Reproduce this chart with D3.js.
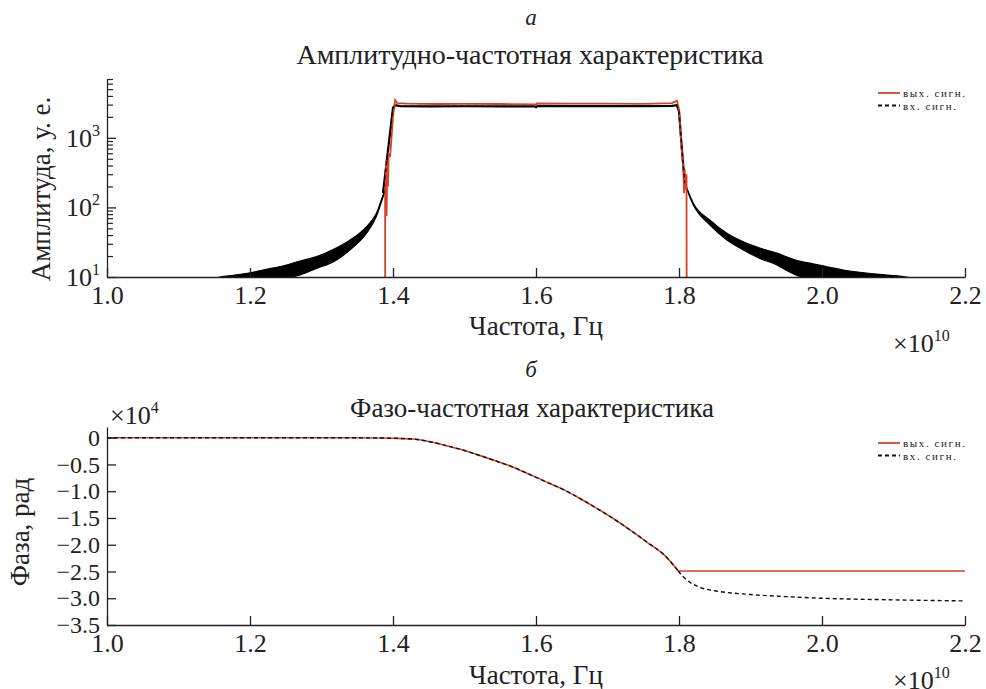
<!DOCTYPE html>
<html>
<head>
<meta charset="utf-8">
<title>АЧХ и ФЧХ</title>
<script src="https://d3js.org/d3.v7.min.js"></script>
<style>
  body { margin: 0; background: #fff; }
</style>
</head>
<body>
<div id="chart"></div>
<script>
// ---- данные (частота в единицах 1e10 Гц) ----
const freqTicks = [1.0, 1.2, 1.4, 1.6, 1.8, 2.0, 2.2];
const ampMajorTicks = [10, 100, 1000];
const ampMinorTicks = [20, 30, 40, 50, 60, 70, 80, 90, 200, 300, 400, 500, 600, 700, 800, 900,
                       2000, 3000, 4000, 5000, 6000, 7000];
const phaseTicks = [0, -0.5, -1.0, -1.5, -2.0, -2.5, -3.0, -3.5];

// АЧХ, вх. сигнал: шумовые «хвосты» (верхняя и нижняя огибающие)
const leftTailFreq  = [1.150, 1.158, 1.177, 1.200, 1.223, 1.247, 1.270, 1.293, 1.317, 1.340, 1.363, 1.377, 1.386, 1.391];
const leftTailHigh  = [9.5,   10,    10.6,  11.5,  12.9,  14.5,  17,    19.6,  25,    34,    53,    83,    150,   200];
const leftTailLow   = [9,     9,     9,     9,     9,     9.5,   10.7,  13.3,  16.6,  24.5,  42.5,  75,    140,   195];
const rightTailFreq = [1.808, 1.820, 1.843, 1.867, 1.890, 1.913, 1.937, 1.950, 1.965, 1.983, 2.007, 2.030, 2.053, 2.076, 2.100, 2.118, 2.130];
const rightTailHigh = [230,   115,   66,    42.5,  32,    26,    22,    19.5,  17.2,  15.8,  14,    12.6,  11.7,  11,    10.5,  10,    9.5];
const rightTailLow  = [220,   108,   56,    34,    24.5,  18.5,  14.9,  12.5,  10.5,  9.5,   9,     9,     9,     9,     9,     9,     9];

// АЧХ, вх. сигнал: полоса пропускания
const inAmpFreq = [1.386, 1.400, 1.403, 1.410, 1.450, 1.500, 1.550, 1.598, 1.600, 1.602, 1.650, 1.700, 1.750, 1.790, 1.797, 1.800, 1.804, 1.808];
const inAmp     = [160,   2700,  2950,  2850,  2830,  2840,  2830,  2830,  2750,  2880,  2860,  2850,  2860,  2880,  2950,  2400,  700,   225];

// АЧХ, вых. сигнал
const outAmpFreq = [1.389, 1.389, 1.3905, 1.391, 1.392, 1.393, 1.394, 1.396, 1.400, 1.403, 1.406, 1.420, 1.460, 1.500, 1.550, 1.599, 1.600, 1.601,
                    1.650, 1.700, 1.750, 1.790, 1.797, 1.800, 1.8036, 1.806, 1.807, 1.808, 1.809, 1.8105, 1.8107];
const outAmp     = [7,     130,   480,    75,    400,   200,   600,   530,   2000,  3500,  3150,  3100,  3060,  3080,  3060,  3030,  2950,  3120,
                    3100,  3090,  3080,  3150,  3400,  2600,  700,    390,   160,   350,   180,   300,    7];

// ФЧХ (x1e4 рад)
const phaseFreq  = [1.0, 1.1, 1.2, 1.3, 1.38, 1.40, 1.428, 1.45, 1.475, 1.50, 1.522, 1.545, 1.568, 1.59, 1.615, 1.64, 1.662, 1.685, 1.708, 1.73, 1.755, 1.78, 1.799];
const phaseCommon = [0, 0, 0, 0, -0.005, -0.01, -0.025, -0.07, -0.15, -0.24, -0.335, -0.44, -0.55, -0.68, -0.83, -0.98, -1.14, -1.32, -1.51, -1.71, -1.95, -2.2, -2.49];
const phaseOutTailFreq = [1.799, 2.2];
const phaseOutTail     = [-2.49, -2.49];
const phaseInTailFreq  = [1.799, 1.806, 1.815, 1.83, 1.85, 1.90, 1.95, 2.0, 2.1, 2.2];
const phaseInTail      = [-2.49, -2.6, -2.7, -2.8, -2.86, -2.93, -2.97, -3.0, -3.03, -3.05];

// ---- оформление ----
const W = 986, H = 689;
const RED = "#d9402a";
const FONT = '"Liberation Serif"';
const FS = 26;   // подписи делений
const LS = 27;   // заголовки и подписи осей
const zip = (xs, ys) => xs.map((f, i) => ({f: f, v: ys[i]}));

const svg = d3.select("#chart").append("svg").attr("width", W).attr("height", H);

const x = d3.scaleLinear().domain([1.0, 2.2]).range([107, 965]);
const yA = d3.scaleLog().domain([10, 7000]).range([277, 79]);
const yP = d3.scaleLinear().domain([-3.5, 0.2]).range([625, 427]);

// клипы
svg.append("clipPath").attr("id", "clipA").append("rect")
   .attr("x", 107).attr("y", 70).attr("width", 858).attr("height", 207);
svg.append("clipPath").attr("id", "clipP").append("rect")
   .attr("x", 107).attr("y", 420).attr("width", 858).attr("height", 205);

function txt(xx, yy, s, size, anchor) {
  return svg.append("text").attr("x", xx).attr("y", yy)
    .attr("text-anchor", anchor || "start")
    .style("font-family", FONT).style("font-size", (size || FS) + "px")
    .attr("fill", "#222").text(s);
}

function styleAxis(g, size) {
  g.select(".domain").attr("stroke", "#222").attr("stroke-width", 1.3);
  g.selectAll(".tick line").attr("stroke", "#222").attr("stroke-width", 1.3);
  g.selectAll(".tick text").style("font-family", FONT).style("font-size", (size || FS) + "px").attr("fill", "#222");
}

function xAxis(y0) {
  const g = svg.append("g").attr("transform", `translate(0,${y0})`)
    .call(d3.axisBottom(x).tickValues(freqTicks).tickFormat(d3.format(".1f"))
      .tickSize(-9).tickSizeOuter(0).tickPadding(9));
  styleAxis(g);
}

function sciLabel(xx, yy, base, exp) {
  const t = txt(xx, yy, null);
  t.append("tspan").style("font-family", FONT).text(base);
  t.append("tspan").style("font-family", FONT).style("font-size", "16px").attr("dy", -11).text(exp);
  return t;
}

// ---- буквы панелей ----
txt(531, 25, "а", 23, "middle").attr("font-style", "italic");
txt(531, 377, "б", 23, "middle").attr("font-style", "italic");

// ================= АЧХ =================
txt(530, 64, "Амплитудно-частотная характеристика", 28, "middle");

const gA = svg.append("g").attr("clip-path", "url(#clipA)");

const area = d3.area().x(d => x(d.f)).y0(d => yA(d.lo)).y1(d => yA(d.hi)).curve(d3.curveMonotoneX);
const tail = (fs, hi, lo) => fs.map((f, i) => ({f: f, hi: hi[i], lo: lo[i]}));
[tail(leftTailFreq, leftTailHigh, leftTailLow), tail(rightTailFreq, rightTailHigh, rightTailLow)]
  .forEach(t => {
    gA.append("path").datum(t).attr("d", area).attr("fill", "#000")
      .attr("stroke", "#000").attr("stroke-width", 1.2);
  });

const lineA = d3.line().x(d => x(d.f)).y(d => yA(d.v));
gA.append("path").datum(zip(inAmpFreq, inAmp)).attr("d", lineA)
  .attr("fill", "none").attr("stroke", "#000").attr("stroke-width", 2.2);
gA.append("path").datum(zip(outAmpFreq, outAmp)).attr("d", lineA)
  .attr("fill", "none").attr("stroke", RED).attr("stroke-width", 1.8);
gA.append("path").datum(zip(inAmpFreq, inAmp)).attr("d", lineA)
  .attr("fill", "none").attr("stroke", "#000").attr("stroke-width", 1.4)
  .attr("stroke-dasharray", "4,3").attr("opacity", 0.85);

// оси АЧХ
xAxis(277);
const gYA = svg.append("g").attr("transform", "translate(107,0)")
  .call(d3.axisLeft(yA).tickValues(ampMajorTicks).tickFormat("").tickSize(-9).tickSizeOuter(0));
styleAxis(gYA);
const gYAm = svg.append("g").attr("transform", "translate(107,0)")
  .call(d3.axisLeft(yA).tickValues(ampMinorTicks).tickFormat("").tickSize(-6).tickSizeOuter(0));
gYAm.select(".domain").remove();
gYAm.selectAll(".tick line").attr("stroke", "#222").attr("stroke-width", 1.2);

ampMajorTicks.forEach(v => {
  sciLabel(100, yA(v) + 9, "10", Math.round(Math.log10(v))).attr("text-anchor", "end")
    .style("font-size", "26px");
});

txt(0, 0, "Амплитуда, у. е.", LS, "middle").attr("transform", "translate(50,189) rotate(-90)");
txt(536, 335, "Частота, Гц", LS, "middle");
sciLabel(893, 352, "×10", "10");

// ================= ФЧХ =================
txt(532, 417, "Фазо-частотная характеристика", LS, "middle");

const gP = svg.append("g").attr("clip-path", "url(#clipP)");
const lineP = d3.line().x(d => x(d.f)).y(d => yP(d.v)).curve(d3.curveMonotoneX);
gP.append("path").datum(zip(phaseFreq, phaseCommon))
  .attr("d", lineP).attr("fill", "none").attr("stroke", RED).attr("stroke-width", 1.6);
gP.append("path").datum(zip(phaseOutTailFreq, phaseOutTail))
  .attr("d", lineP).attr("fill", "none").attr("stroke", RED).attr("stroke-width", 1.6);
gP.append("path").datum(zip(phaseFreq, phaseCommon))
  .attr("d", lineP).attr("fill", "none").attr("stroke", "#111").attr("stroke-width", 1.4)
  .attr("stroke-dasharray", "4,3");
gP.append("path").datum(zip(phaseInTailFreq, phaseInTail))
  .attr("d", lineP).attr("fill", "none").attr("stroke", "#111").attr("stroke-width", 1.4)
  .attr("stroke-dasharray", "4,3");

xAxis(625);
const gYP = svg.append("g").attr("transform", "translate(107,0)")
  .call(d3.axisLeft(yP).tickValues(phaseTicks)
    .tickFormat(d => d === 0 ? "0" : "−" + d3.format(".1f")(-d))
    .tickSize(-9).tickSizeOuter(0).tickPadding(7));
styleAxis(gYP, 24);

txt(0, 0, "Фаза, рад", LS, "middle").attr("transform", "translate(29,532) rotate(-90)");
sciLabel(110, 424, "×10", "4");
txt(536, 684, "Частота, Гц", LS, "middle");
sciLabel(893, 689, "×10", "10");

// ---- легенды ----
const legendLabels = ["вых. сигн.", "вх. сигн."];
function legend(y0, gap) {
  legendLabels.forEach((lab, i) => {
    const yy = y0 + i * gap;
    svg.append("line").attr("x1", 878).attr("x2", 900).attr("y1", yy).attr("y2", yy)
       .attr("stroke", i === 0 ? RED : "#111").attr("stroke-width", 1.8)
       .attr("stroke-dasharray", i === 0 ? null : "4,3");
    txt(903, yy + 4, lab, 11).style("letter-spacing", "1.6px");
  });
}
legend(93, 12.5);
legend(443, 12.5);
</script>
</body>
</html>
